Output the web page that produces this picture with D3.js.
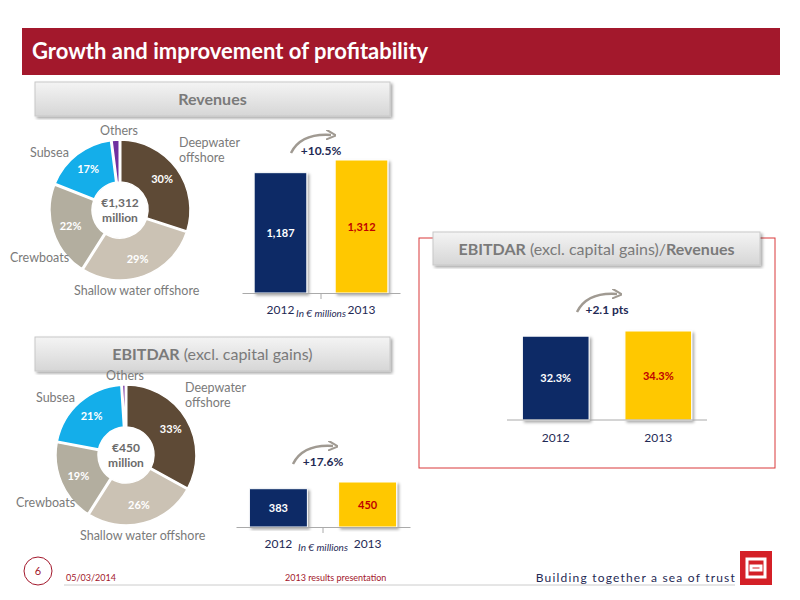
<!DOCTYPE html>
<html><head><meta charset="utf-8">
<script src="https://cdn.jsdelivr.net/npm/d3@7"></script>
<style>body{margin:0;background:#fff}svg{font-family:Lato,"Open Sans",sans-serif}</style>
</head><body><svg id="c" width="800" height="600"></svg>
<script>
var segments = ["Deepwater offshore", "Shallow water offshore", "Crewboats", "Subsea", "Others"];
var segColors = ["#5e4a36", "#cbc2b4", "#b3ae9f", "#14aeea", "#7030a0"];
var revenueShare = [30, 29, 22, 17, 2];
var ebitdarShare = [33, 26, 19, 21, 1];
var years = ["2012", "2013"];
var revenues = [1187, 1312];
var ebitdar = [383, 450];
var margin = [32.3, 34.3];
var barColors = ["#0a2a66", "#ffc800"];

var svg = d3.select("#c");
var defs = svg.append("defs");
var g = defs.append("linearGradient").attr("id", "gbox").attr("x2", 0).attr("y2", 1);
g.append("stop").attr("offset", 0).attr("stop-color", "#f4f4f4");
g.append("stop").attr("offset", 1).attr("stop-color", "#d6d6d6");
var f = defs.append("filter").attr("id", "sh");
f.append("feDropShadow").attr("dx", 2).attr("dy", 2).attr("stdDeviation", 1.5).attr("flood-opacity", 0.35);
defs.append("marker").attr("id", "ah").attr("viewBox", "0 0 10 10").attr("refX", 5).attr("refY", 5)
  .attr("markerWidth", 4).attr("markerHeight", 4).attr("orient", "auto")
  .append("path").attr("d", "M0,0L10,5L0,10").attr("fill", "none").attr("stroke", "#a09a92").attr("stroke-width", 2);

// header
svg.append("rect").attr("x", 22).attr("y", 28).attr("width", 758).attr("height", 47).attr("fill", "#a3182c");
svg.append("text").attr("x", 32).attr("y", 59).attr("fill", "#fff").attr("font-size", 22).attr("font-weight", "bold").text("Growth and improvement of profitability");

function section(x, y, w, h, parts) {
  svg.append("rect").attr("x", x).attr("y", y).attr("width", w).attr("height", h)
    .attr("fill", "url(#gbox)").attr("stroke", "#c8c8c8").attr("filter", "url(#sh)");
  var t = svg.append("text").attr("x", x + w / 2).attr("y", y + h / 2 + 6).attr("text-anchor", "middle")
    .attr("font-size", 16).attr("fill", "#7a7a7a");
  parts.forEach(function (p) { t.append("tspan").attr("font-weight", p[1] ? "bold" : "normal").text(p[0]); });
}
section(35, 82, 355, 34, [["Revenues", 1]]);
section(35, 337, 355, 34, [["EBITDAR", 1], [" (excl. capital gains)", 0]]);
svg.append("rect").attr("x", 419).attr("y", 238).attr("width", 356).attr("height", 230).attr("fill", "none").attr("stroke", "#d9383a");
section(433, 232, 327, 33, [["EBITDAR", 1], [" (excl. capital gains)/", 0], ["Revenues", 1]]);

function donut(cx, cy, vals, center, labelPos) {
  var gr = svg.append("g").attr("transform", "translate(" + cx + "," + cy + ")");
  var pie = d3.pie().sort(null)(vals);
  var arc = d3.arc().innerRadius(28).outerRadius(70).padAngle(0.02);
  var lab = d3.arc().innerRadius(52).outerRadius(52);
  gr.selectAll("path").data(pie).enter().append("path").attr("d", arc)
    .attr("fill", function (d, i) { return segColors[i]; }).attr("stroke", "#fff").attr("stroke-width", 1.5);
  gr.selectAll("text.p").data(pie.filter(function (d) { return d.data > 5; })).enter().append("text")
    .attr("transform", function (d) { return "translate(" + lab.centroid(d) + ")"; })
    .attr("text-anchor", "middle").attr("dy", 4).attr("font-size", 11).attr("font-weight", "bold")
    .attr("fill", "#fff")
    .text(function (d) { return d.data + "%"; });
  var ct = gr.append("text").attr("text-anchor", "middle").attr("font-size", 12).attr("font-weight", "bold").attr("fill", "#6b6b6b");
  ct.append("tspan").attr("x", 0).attr("dy", -3).text(center);
  ct.append("tspan").attr("x", 0).attr("dy", 15).text("million");
  labelPos.forEach(function (l) {
    var t = svg.append("text").attr("x", cx + l[0]).attr("y", cy + l[1]).attr("font-size", 12.5).attr("fill", "#7a7a7a");
    l[2].split("\n").forEach(function (s, i) { t.append("tspan").attr("x", cx + l[0]).attr("dy", i ? 15 : 0).text(s); });
  });
}
var lp = [[59, -63, "Deepwater\noffshore"], [-46, 85, "Shallow water offshore"], [-110, 52, "Crewboats"], [-90, -53, "Subsea"], [-20, -75, "Others"]];
donut(120, 210, revenueShare, "€1,312", lp);
donut(126, 455, ebitdarShare, "€450", lp);

function bars(x0, x1, base, hMax, vals, fmt, unit, grow, arrowY, axis) {
  var x = d3.scaleBand().domain(years).range([x0, x1]).paddingInner(0.35).paddingOuter(0.15);
  var y = d3.scaleLinear().domain([0, d3.max(vals)]).range([base, base - hMax]);
  svg.selectAll(null).data(vals).enter().append("rect")
    .attr("x", function (d, i) { return x(years[i]); }).attr("y", function (d) { return y(d); })
    .attr("width", x.bandwidth()).attr("height", function (d) { return base - y(d); })
    .attr("fill", function (d, i) { return barColors[i]; }).attr("stroke", "#fff").attr("filter", "url(#sh)");
  svg.selectAll(null).data(vals).enter().append("text")
    .attr("x", function (d, i) { return x(years[i]) + x.bandwidth() / 2; })
    .attr("y", function (d) { return Math.min((base + y(d)) / 2 + 4, base - 10); })
    .attr("text-anchor", "middle").attr("font-size", 11).attr("font-weight", "bold")
    .attr("fill", function (d, i) { return i ? "#c00000" : "#fff"; }).text(fmt);
  if (axis) {
    var ax = svg.append("g").attr("transform", "translate(0," + base + ")")
      .call(d3.axisBottom(x).tickSize(0).tickPadding(12));
    ax.select(".domain").attr("stroke", "#aaa");
    ax.selectAll("text").attr("font-size", 12).attr("font-family", "Lato").attr("fill", "#1f2a55");
    ax.append("line").attr("x1", (x0 + x1) / 2).attr("x2", (x0 + x1) / 2).attr("y1", 0).attr("y2", 6).attr("stroke", "#aaa");
    if (unit) svg.append("text").attr("x", (x0 + x1) / 2).attr("y", base + 24).attr("text-anchor", "middle")
      .attr("font-size", 10).attr("font-style", "italic").attr("fill", "#1f2a55").text(unit);
  } else {
    svg.append("line").attr("x1", x0).attr("x2", x1).attr("y1", base).attr("y2", base).attr("stroke", "#aaa");
    years.forEach(function (yr) {
      svg.append("text").attr("x", x(yr) + x.bandwidth() / 2).attr("y", base + 22).attr("text-anchor", "middle")
        .attr("font-size", 12).attr("fill", "#1f2a55").text(yr);
    });
  }
  var mx = (x0 + x1) / 2;
  svg.append("path").attr("d", "M" + (mx - 30) + "," + (arrowY + 12) + " Q" + (mx - 20) + "," + (arrowY - 8) + " " + (mx + 10) + "," + (arrowY - 6))
    .attr("fill", "none").attr("stroke", "#a09a92").attr("stroke-width", 2.5).attr("marker-end", "url(#ah)");
  svg.append("text").attr("x", mx).attr("y", arrowY + 14).attr("text-anchor", "middle").attr("font-size", 12)
    .attr("font-weight", "bold").attr("fill", "#1f2a55").text(grow);
}
bars(242, 400, 293, 133, revenues, d3.format(","), "In € millions", "+10.5%", 141, true);
bars(236, 410, 527, 45, ebitdar, d3.format(","), "In € millions", "+17.6%", 452, true);
bars(507, 707, 420, 89, margin, function (d) { return d.toFixed(1) + "%"; }, null, "+2.1 pts", 300, false);

// footer
svg.append("circle").attr("cx", 38).attr("cy", 571).attr("r", 14).attr("fill", "#fff").attr("stroke", "#a3182c");
svg.append("text").attr("x", 38).attr("y", 575).attr("text-anchor", "middle").attr("font-size", 11).attr("fill", "#a3182c").text("6");
svg.append("line").attr("x1", 64).attr("x2", 735).attr("y1", 585).attr("y2", 585).attr("stroke", "#ccc");
svg.append("text").attr("x", 66).attr("y", 581).attr("font-size", 9).attr("fill", "#a3182c").text("05/03/2014");
svg.append("text").attr("x", 285).attr("y", 581).attr("font-size", 9).attr("fill", "#a3182c").text("2013 results presentation");
svg.append("text").attr("x", 736).attr("y", 582).attr("text-anchor", "end").attr("font-size", 12).attr("letter-spacing", 1.2).attr("fill", "#1f2a55").text("Building together a sea of trust");
svg.append("rect").attr("x", 740).attr("y", 551).attr("width", 32).attr("height", 34).attr("fill", "#d42027");
svg.append("path").attr("d", "M747,559h18v18h-18z M751,566h10v4h-10z").attr("fill", "none").attr("stroke", "#fff").attr("stroke-width", 3);
</script></body></html>
